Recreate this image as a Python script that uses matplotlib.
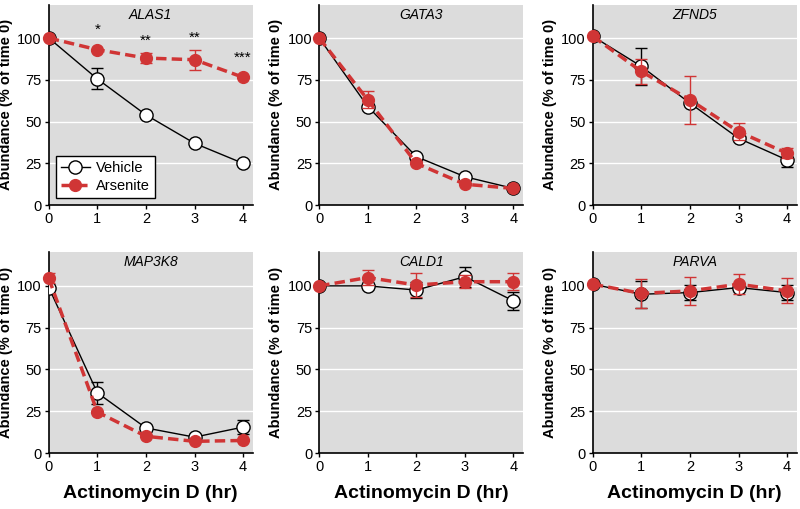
import numpy as np
import matplotlib
matplotlib.use("Agg")
from matplotlib import pyplot as plt
from matplotlib import font_manager

# pick a narrow font if there is one
names = set(f.name for f in font_manager.fontManager.ttflist)
if "Liberation Sans Narrow" in names:
    fam = "Liberation Sans Narrow"
else:
    fam = "Liberation Sans"
plt.rcParams['font.family'] = [fam, 'DejaVu Sans']

hours = [0, 1, 2, 3, 4]
genes = ["ALAS1", "GATA3", "ZFND5", "MAP3K8", "CALD1", "PARVA"]

# vehicle (mean, error), arsenite (mean, error)
alas1_veh = [100, 75.5, 54, 37, 25]
alas1_veh_err = [0, 6.3, 0, 0, 0]
alas1_ars = [100, 93, 88, 87, 76.5]
alas1_ars_err = [0, 0, 3, 6, 0]

gata3_veh = [100, 59, 29, 17, 10]
gata3_veh_err = [0, 0, 0, 0, 0]
gata3_ars = [100, 63, 25, 12.5, 10]
gata3_ars_err = [0, 5, 0, 0, 0]

zfnd5_veh = [101, 83, 61, 40, 27]
zfnd5_veh_err = [0, 11, 0, 0, 4]
zfnd5_ars = [101, 80, 63, 44, 31]
zfnd5_ars_err = [0, 7.5, 14.5, 5, 3]

map3k8_veh = [99, 36, 15, 9.5, 15.5]
map3k8_veh_err = [0, 6.5, 0, 0, 4]
map3k8_ars = [104.5, 24.5, 10, 7, 7.5]
map3k8_ars_err = [3, 0, 0, 0, 0]

cald1_veh = [100, 100, 97.5, 105.5, 91]
cald1_veh_err = [0, 0, 5, 6, 5.5]
cald1_ars = [100, 105, 100.5, 102.5, 102.5]
cald1_ars_err = [0, 4.5, 7, 4, 5]

parva_veh = [101, 95, 96, 99, 96]
parva_veh_err = [0, 8, 4.5, 0, 4.5]
parva_ars = [101, 95.5, 97, 101, 97]
parva_ars_err = [0, 8.5, 8.5, 6, 7.5]

alas1_stars = ["", "*", "**", "**", "***"]
alas1_star_y = [0, 101, 94, 96, 84]

veh_data = [alas1_veh, gata3_veh, zfnd5_veh, map3k8_veh, cald1_veh, parva_veh]
veh_errs = [alas1_veh_err, gata3_veh_err, zfnd5_veh_err, map3k8_veh_err, cald1_veh_err, parva_veh_err]
ars_data = [alas1_ars, gata3_ars, zfnd5_ars, map3k8_ars, cald1_ars, parva_ars]
ars_errs = [alas1_ars_err, gata3_ars_err, zfnd5_ars_err, map3k8_ars_err, cald1_ars_err, parva_ars_err]

red = '#d03535'
bg = '#dcdcdc'

fig = plt.figure(figsize=(8, 5.09), dpi=100)
lefts = [0.061, 0.399, 0.741]
bottoms = [0.597, 0.110]
w = 0.255
h = 0.394

x = np.array(hours)
for i in range(6):
    row = i // 3
    col = i % 3
    ax = fig.add_axes([lefts[col], bottoms[row], w, h])
    ax.set_facecolor(bg)
    for g in [25, 50, 75, 100]:
        ax.axhline(g, color='white', lw=1, zorder=0)

    v = np.array(veh_data[i], dtype=float)
    ve = np.array(veh_errs[i], dtype=float)
    a = np.array(ars_data[i], dtype=float)
    ae = np.array(ars_errs[i], dtype=float)

    m = ve > 0
    ax.errorbar(x[m], v[m], yerr=ve[m], fmt='none', ecolor='black', elinewidth=1, capsize=4, capthick=1, zorder=2)
    ax.plot(x, v, '-', color='black', lw=1, marker='o', markersize=9.5,
            markerfacecolor='white', markeredgecolor='black', markeredgewidth=1, zorder=3, label='Vehicle')
    m = ae > 0
    ax.errorbar(x[m], a[m], yerr=ae[m], fmt='none', ecolor=red, elinewidth=1, capsize=4, capthick=1, zorder=4)
    ax.plot(x, a, '--', color=red, lw=2.5, dashes=(3, 1.5), marker='o', markersize=8.5,
            markerfacecolor=red, markeredgecolor=red, zorder=5, label='Arsenite', clip_on=False)

    ax.set_xlim(0, 4.2)
    ax.set_ylim(0, 120)
    ax.set_xticks(hours)
    ax.set_yticks([0, 25, 50, 75, 100])
    ax.tick_params(labelsize=10.5, length=3, width=1, pad=2)
    for s in ['top', 'right']:
        ax.spines[s].set_visible(False)
    for s in ['left', 'bottom']:
        ax.spines[s].set_linewidth(1.2)
    ax.text(2.1, 114, genes[i], style='italic', ha='center', va='center', fontsize=10)
    ax.set_ylabel("Abundance (% of time 0)", fontsize=10.5, fontweight='bold', labelpad=3)
    if row == 1:
        ax.set_xlabel("Actinomycin D (hr)", fontsize=14, fontweight='bold', labelpad=8)

    if i == 0:
        for k in range(5):
            if alas1_stars[k]:
                ax.text(hours[k], alas1_star_y[k], alas1_stars[k], ha='center', va='bottom', fontsize=11)
        leg = ax.legend(loc='lower left', bbox_to_anchor=(0.02, 0.02), fontsize=10.5, frameon=True,
                        fancybox=False, handlelength=2.0, handletextpad=0.4, borderpad=0.35,
                        labelspacing=0.3, borderaxespad=0.2)
        leg.get_frame().set_edgecolor('black')
        leg.get_frame().set_linewidth(1)
        leg.get_frame().set_alpha(1)

plt.savefig('out.png', dpi=100)
